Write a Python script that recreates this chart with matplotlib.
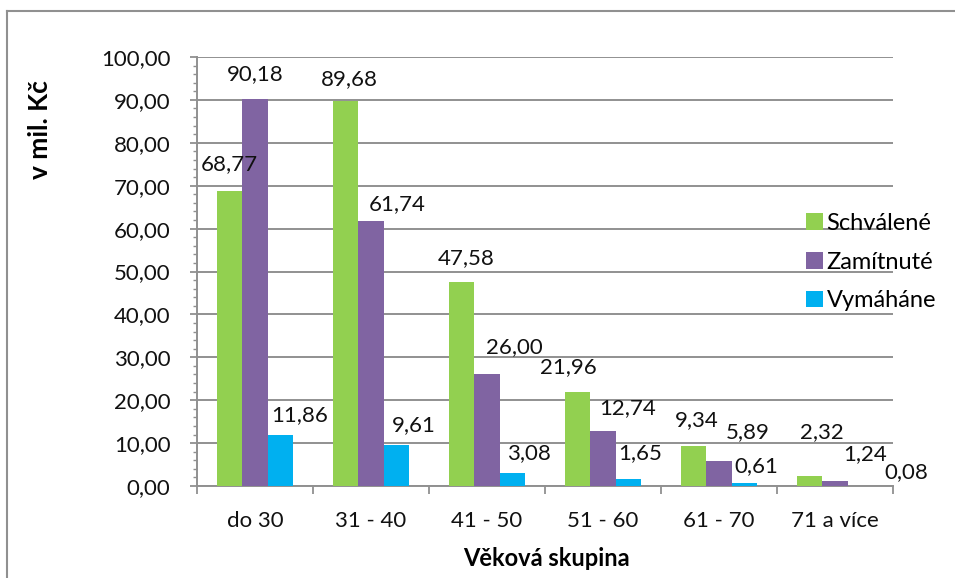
import matplotlib.pyplot as plt
import numpy as np
from matplotlib.lines import Line2D
from matplotlib.ticker import MultipleLocator, FuncFormatter

plt.rcParams['font.family'] = ['Lato', 'DejaVu Sans']

categories = ['do 30', '31 - 40', '41 - 50', '51 - 60', '61 - 70', '71 a více']
schvalene = [68.77, 89.68, 47.58, 21.96, 9.34, 2.32]
zamitnute = [90.18, 61.74, 26.00, 12.74, 5.89, 1.24]
vymahane = [11.86, 9.61, 3.08, 1.65, 0.61, 0.08]
series_names = ['Schválené', 'Zamítnuté', 'Vymáháne']
colors = ['#92D050', '#8064A2', '#00B0F0']

# nudges of the data labels (pixels), like Excel placed them
label_dx = [[0, 4, 5, -9, 3, 12], [0, 26, 27, 25, 29, 30], [19, 17, 16, 12, 12, 46]]
label_dy = [[27, 22, 24, 25, 26, 44], [25, 17, 27, 23, 29, 27], [20, 20, 20, 26, 17, 14]]

fig = plt.figure(figsize=(9.55, 5.78), dpi=100)
ax = fig.add_axes([197 / 955, 1 - 486 / 578, 696 / 955, 429 / 578])

x = np.arange(len(categories))
w = 0.22
handles = []
for i, (vals, name, c) in enumerate(zip([schvalene, zamitnute, vymahane], series_names, colors)):
    bars = ax.bar(x + (i - 1) * w, vals, w, color=c, label=name, zorder=3)
    handles.append(bars)
    for j, (xi, v) in enumerate(zip(x + (i - 1) * w, vals)):
        ax.annotate(f'{v:.2f}'.replace('.', ','), (xi, v),
                    xytext=(label_dx[i][j], label_dy[i][j]), textcoords='offset pixels',
                    ha='center', va='center', fontsize=16, color='#111111', zorder=4)

ax.set_xlim(-0.5, len(categories) - 0.5)
ax.set_ylim(0, 100)
ax.yaxis.set_major_locator(MultipleLocator(10))
ax.yaxis.set_minor_locator(MultipleLocator(2))
ax.yaxis.set_major_formatter(FuncFormatter(lambda v, p: f'{v:.2f}'.replace('.', ',')))
ax.grid(axis='y', color='#909090', linewidth=1.4, zorder=0)

ax.set_xticks(x)
ax.set_xticklabels(categories)
ax.set_xticks(np.arange(-0.5, len(categories)), minor=True)
ax.tick_params(axis='x', which='major', length=0, pad=18, labelsize=16, labelcolor='#111111')
ax.tick_params(axis='x', which='minor', length=6, color='#909090', width=1.3)
ax.tick_params(axis='y', which='major', length=5, color='#909090', width=1.3, labelsize=16,
               pad=14, labelcolor='#111111')
ax.tick_params(axis='y', which='minor', length=3, color='#909090', width=1)

for s in ['top', 'right']:
    ax.spines[s].set_visible(False)
for s in ['left', 'bottom']:
    ax.spines[s].set_color('#909090')
    ax.spines[s].set_linewidth(1.4)

fig.text(40 / 955, 1 - 130 / 578, 'v mil. Kč', rotation=90, ha='center', va='center',
         fontsize=19, fontweight='bold')
fig.text(546 / 955, 1 - 558 / 578, 'Věková skupina', ha='center', va='center',
         fontsize=17, fontweight='bold')

fig.legend(handles=handles, loc='center left', bbox_to_anchor=(806 / 955, 1 - 262 / 578),
           bbox_transform=fig.transFigure, frameon=False, fontsize=17, labelspacing=0.75,
           handlelength=0.72, handleheight=0.72, handletextpad=0.15, borderaxespad=0,
           borderpad=0)

# chart border (cut off on the right and bottom in the original)
fig.add_artist(Line2D([7 / 955, 7 / 955], [0, 1 - 11 / 578], color='#909090', linewidth=1.5))
fig.add_artist(Line2D([7 / 955, 1], [1 - 11 / 578, 1 - 11 / 578], color='#909090', linewidth=1.5))

fig.savefig('out.png', dpi=100)
